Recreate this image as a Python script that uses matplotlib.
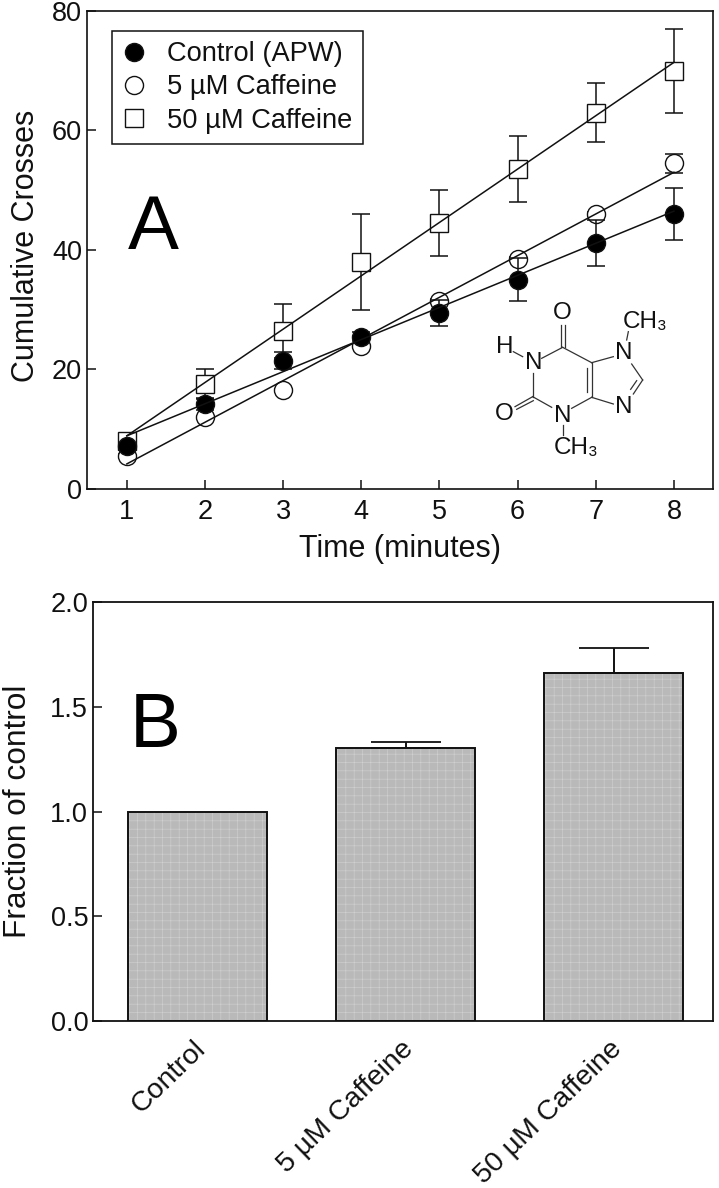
import matplotlib
matplotlib.use("Agg")
import matplotlib.pyplot as plt
from matplotlib.transforms import Affine2D

plt.rcParams['font.family'] = ['Liberation Sans', 'DejaVu Sans']
plt.rcParams['hatch.linewidth'] = 0.45

time = [1, 2, 3, 4, 5, 6, 7, 8]
control = [7.2, 14.2, 21.5, 25.5, 29.5, 35, 41.2, 46]
control_err = [0.5, 1.0, 1.5, 0.8, 2.2, 3.6, 3.8, 4.3]
caff5 = [5.5, 12, 16.5, 24, 31.5, 38.5, 46, 54.5]
caff5_err = [0.3, 0.3, 0.3, 0.3, 0.3, 0.3, 0.3, 1.55]
caff50 = [8, 17.5, 26.5, 38, 44.5, 53.5, 63, 70]
caff50_err = [0.6, 2.5, 4.5, 8, 5.5, 5.5, 5, 7]
fit_x = [1, 8]
control_fit = [8.9, 46.5]
caff5_fit = [4.2, 53]
caff50_fit = [8.9, 71.4]
xticks_a = [1, 2, 3, 4, 5, 6, 7, 8]
yticks_a = [0, 20, 40, 60, 80]

bar_labels = ['Control', '5 µM Caffeine', '50 µM Caffeine']
bar_values = [1.0, 1.305, 1.66]
bar_err = [0, 0.025, 0.12]
yticks_b = [0.0, 0.5, 1.0, 1.5, 2.0]

W, H = 719, 1188
INK = '#111111'
fig = plt.figure(figsize=(W / 100, H / 100), dpi=100)
px = Affine2D().scale(1, -1).translate(0, H)

def axes_px(l, t, r, b):
    return fig.add_axes([l / W, 1 - b / H, (r - l) / W, (b - t) / H])

ax = axes_px(87, 11, 713, 489)
ax.set_xlim(0.49, 8.50)
ax.set_ylim(0, 80)
z = 2
for y, e, fit, fmt, fc, ms in [
    (caff50, caff50_err, caff50_fit, 's', 'white', 13),
    (caff5, caff5_err, caff5_fit, 'o', 'white', 13),
    (control, control_err, control_fit, 'o', 'black', 13),
]:
    ax.errorbar(time, y, yerr=e, fmt='none', ecolor=INK, elinewidth=1.1,
                capsize=6.5, capthick=1.1, zorder=z)
    ax.plot(time, y, fmt, mfc=fc, mec=INK, mew=1.0, ms=ms, zorder=z + 0.1, ls='none', clip_on=False)
    ax.plot(fit_x, fit, color=INK, lw=1.1, zorder=z + 0.2)
    z += 1
ax.set_xticks(xticks_a)
ax.set_yticks(yticks_a)
ax.tick_params(axis='x', direction='in', length=6.2, width=1.1, labelsize=19.5, pad=7.5, colors=INK)
ax.tick_params(axis='y', direction='in', length=6.2, width=1.1, labelsize=19.5, pad=3.5, colors=INK)
ax.set_xlabel('Time (minutes)', fontsize=22, labelpad=6.5, color=INK)
ax.set_ylabel('Cumulative Crosses', fontsize=22, color=INK)
ax.yaxis.set_label_coords((41 - 87) / 626, (489 - 246) / 478)
for s in ax.spines.values():
    s.set_linewidth(1.2)
    s.set_color(INK)

ax.text(153, 249, 'A', transform=px, fontsize=55, ha='center', va='baseline', color='black')

h = [ax.plot([], [], 'o', mfc='black', mec=INK, ms=13)[0],
     ax.plot([], [], 'o', mfc='white', mec=INK, ms=13)[0],
     ax.plot([], [], 's', mfc='white', mec=INK, ms=13)[0]]
leg = ax.legend(h, ['Control (APW)', '5 µM Caffeine', '50 µM Caffeine'],
                loc='upper left', bbox_to_anchor=((112 - 87) / 626, 1 - (31 - 11) / 478),
                borderaxespad=0, fontsize=19.6, frameon=True, fancybox=False, framealpha=1,
                edgecolor=INK, labelspacing=0.26, handletextpad=0.8,
                borderpad=0.38, handlelength=0.85, labelcolor=INK)
leg.get_frame().set_linewidth(1.1)

# caffeine structure, in crop coordinates
tr = Affine2D().scale(1 / 3, -1 / 3).translate(470, H - 290)
bonds = [((278, 172), (215, 205)), ((188, 248), (188, 320)), ((188, 320), (245, 352)),
         ((305, 355), (365, 322)), ((365, 322), (365, 218)), ((365, 218), (278, 172)),
         ((365, 218), (430, 200)), ((365, 322), (430, 342)), ((485, 222), (518, 270)),
         ((518, 270), (490, 312)), ((500, 272), (482, 298)), ((350, 235), (350, 305)),
         ((272, 172), (272, 105)), ((285, 172), (285, 105)), ((188, 320), (135, 350)),
         ((190, 332), (140, 358)), ((130, 185), (158, 200)), ((470, 150), (475, 125)),
         ((278, 405), (278, 435))]
for a, b in bonds:
    fig.add_artist(plt.Line2D([a[0], b[0]], [a[1], b[1]], transform=tr, color='#333333', lw=0.9))
atoms = [('O', 278, 70), ('H', 103, 170), ('N', 190, 218), ('O', 103, 372), ('N', 278, 378),
         ('N', 462, 190), ('N', 462, 352)]
for s, x, y in atoms:
    fig.text(x, y, s, transform=tr, fontsize=17.5, ha='center', va='center', color=INK)
for x, y in [(525, 97), (318, 475)]:
    fig.text(x, y, 'CH\u2083', transform=tr, fontsize=17.5, ha='center', va='center', color=INK)

# panel B
bx = axes_px(93, 602, 713, 1021)
bx.set_xlim((93 - 197.5) / 208, (713 - 197.5) / 208)
bx.set_ylim(0, 2)
pos = list(range(len(bar_values)))
wd = 0.668
bx.bar(pos, bar_values, width=wd, color='#b9b9b9', lw=0, zorder=1)
bx.bar(pos, bar_values, width=wd, facecolor='none', edgecolor='#cfcfcf', hatch='++', lw=0, zorder=1.2)
bx.bar(pos, bar_values, width=wd, facecolor='none', edgecolor=INK, lw=1.4, zorder=2)
for p, v, e in zip(pos[1:], bar_values[1:], bar_err[1:]):
    bx.errorbar([p], [v], yerr=[[0], [e]], fmt='none', ecolor=INK, elinewidth=1.4,
                capsize=25.5, capthick=1.3, zorder=1.5)
bx.set_xticks([])
bx.set_yticks(yticks_b)
bx.set_yticklabels([f'{v:.1f}' for v in yticks_b])
bx.tick_params(axis='y', direction='in', length=6.2, width=1.1, labelsize=19.5, pad=3.5, colors=INK)
bx.set_ylabel('Fraction of control', fontsize=22.8, color=INK)
bx.yaxis.set_label_coords((33 - 93) / 620, 0.5)
for s in bx.spines.values():
    s.set_linewidth(1.3)
    s.set_color(INK)
for p, lab in zip(pos, bar_labels):
    bx.annotate(lab, xy=(p, 0), xycoords=bx.get_xaxis_transform(), xytext=(-3.5, -10.5),
                textcoords='offset points', rotation=44, rotation_mode='anchor',
                ha='right', va='top', fontsize=20.5, color=INK)
bx.text(155, 747, 'B', transform=px, fontsize=55, ha='center', va='baseline', color='black')

fig.savefig('out.png', dpi=100)
